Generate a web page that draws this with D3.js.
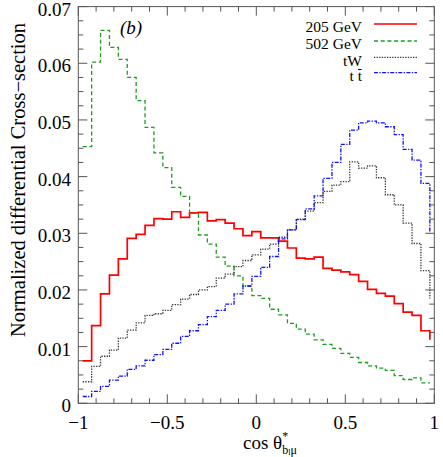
<!DOCTYPE html>
<html><head><meta charset="utf-8">
<script src="https://cdn.jsdelivr.net/npm/d3@7"></script>
<style>body{margin:0;background:#fff}svg{display:block}text{font-family:"Liberation Serif","Times New Roman",Times,serif}</style>
</head><body>
<svg id="c" width="443" height="457"></svg>
<script>
// ---- data ----
const binStart = -0.975, binWidth = 0.05;
const xTicksMajor = [-1, -0.5, 0, 0.5, 1];
const xTickLabels = ["\u22121", "\u22120.5", "0", "0.5", "1"];
const yTicksMajor = [0, 0.01, 0.02, 0.03, 0.04, 0.05, 0.06, 0.07];
const yTickLabels = ["0", "0.01", "0.02", "0.03", "0.04", "0.05", "0.06", "0.07"];
const seriesNames = ["205 GeV", "502 GeV", "tW", "tt"];
const gev205 = [0.0075,0.0137,0.0193,0.0226,0.0255,0.0291,0.0298,0.0314,0.0326,0.0325,0.0338,0.0328,0.0336,0.0337,0.0322,0.0324,0.0318,0.0308,0.0296,0.0303,0.0292,0.0292,0.0286,0.0274,0.0256,0.0255,0.0258,0.0238,0.0235,0.0232,0.0227,0.0215,0.0201,0.0194,0.0189,0.0176,0.0161,0.0155,0.0128];
const gev502 = [0.0453,0.0602,0.0658,0.0628,0.0607,0.0575,0.0534,0.0487,0.0442,0.0416,0.0381,0.0365,0.0335,0.0297,0.0281,0.0258,0.0242,0.0225,0.0207,0.0190,0.0185,0.0166,0.0156,0.0141,0.0131,0.0122,0.0112,0.0104,0.0097,0.0088,0.0081,0.0072,0.0066,0.0062,0.0058,0.0049,0.0042,0.0045,0.0036];
const tW = [0.0038,0.0065,0.0083,0.0094,0.0115,0.0129,0.0142,0.0155,0.0158,0.0164,0.0174,0.0184,0.0192,0.0200,0.0206,0.0221,0.0228,0.0241,0.0252,0.0262,0.0272,0.0281,0.0293,0.0306,0.0325,0.0339,0.0354,0.0374,0.0385,0.0391,0.0426,0.0415,0.0419,0.0398,0.0368,0.0350,0.0318,0.0282,0.0234];
const ttbar = [0.0012,0.0021,0.0030,0.0041,0.0048,0.0060,0.0066,0.0076,0.0086,0.0095,0.0106,0.0118,0.0128,0.0139,0.0153,0.0164,0.0175,0.0193,0.0207,0.0224,0.0240,0.0259,0.0290,0.0306,0.0324,0.0343,0.0366,0.0397,0.0425,0.0457,0.0482,0.0495,0.0498,0.0495,0.0488,0.0474,0.0448,0.0429,0.0388];
const tailValues = [0.0112, null, 0.0185, 0.0300];

// ---- layout ----
const L = 78.3, R = 434.3, T = 6.6, B = 403.3;
const svg = d3.select("#c");
const x = d3.scaleLinear().domain([-1, 1]).range([L, R]);
const y = d3.scaleLinear().domain([0, 0.07]).range([B, T]);
const axisCol = "#555";

const styles = [
  {color: "#ff0000", dash: null, w: 1.7},
  {color: "#1c9e1c", dash: "4,2.7", w: 1.3},
  {color: "#333333", dash: "1.3,1.3", w: 1.3},
  {color: "#1010ff", dash: "4,1.4,1.3,1.4", w: 1.3}
];
const allSeries = [gev205, gev502, tW, ttbar];

// ---- frame and ticks ----
svg.append("rect").attr("x", L).attr("y", T).attr("width", R - L).attr("height", B - T)
  .attr("fill", "none").attr("stroke", axisCol).attr("stroke-width", 1);

const xMinor = d3.range(-10, 11).map(i => i / 10);
const yMinor = d3.range(0, 29).map(i => i * 0.0025);
const tg = svg.append("g").attr("stroke", axisCol).attr("stroke-width", 1);
xMinor.forEach(v => {
  const major = Math.abs(v * 2 - Math.round(v * 2)) < 1e-9;
  const len = major ? 9 : 5;
  tg.append("line").attr("x1", x(v)).attr("x2", x(v)).attr("y1", B).attr("y2", B - len);
  tg.append("line").attr("x1", x(v)).attr("x2", x(v)).attr("y1", T).attr("y2", T + len);
});
yMinor.forEach(v => {
  const major = Math.abs(v * 100 - Math.round(v * 100)) < 1e-9;
  const len = major ? 9 : 5;
  tg.append("line").attr("y1", y(v)).attr("y2", y(v)).attr("x1", L).attr("x2", L + len);
  tg.append("line").attr("y1", y(v)).attr("y2", y(v)).attr("x1", R).attr("x2", R - len);
});

// tick labels
svg.append("g").selectAll("text").data(xTicksMajor).join("text")
  .attr("x", d => x(d)).attr("y", 428.5).attr("text-anchor", "middle")
  .attr("font-size", 19).text((d, i) => xTickLabels[i]);
svg.append("g").selectAll("text").data(yTicksMajor).join("text")
  .attr("x", 71).attr("y", d => y(d) + 9).attr("text-anchor", "end")
  .attr("font-size", 19).text((d, i) => yTickLabels[i]);

// ---- histograms ----
const clipId = "pc";
svg.append("clipPath").attr("id", clipId).append("rect")
  .attr("x", L).attr("y", T).attr("width", R - L).attr("height", B - T);
const line = d3.line().x(d => x(d[0])).y(d => y(d[1])).curve(d3.curveStepAfter);
allSeries.forEach((vals, k) => {
  const pts = vals.map((v, i) => [binStart + i * binWidth, v]);
  const end = binStart + vals.length * binWidth;
  pts.push([end, vals[vals.length - 1]]);
  if (tailValues[k] != null) pts.push([end, tailValues[k]]);
  const s = styles[k];
  svg.append("path").datum(pts).attr("d", line).attr("fill", "none")
    .attr("stroke", s.color).attr("stroke-width", s.w)
    .attr("stroke-dasharray", s.dash).attr("clip-path", `url(#${clipId})`);
});

// ---- legend ----
const legY = [24, 41, 57.3, 72.7];
seriesNames.forEach((name, k) => {
  const s = styles[k];
  svg.append("line").attr("x1", 374).attr("x2", 417).attr("y1", legY[k]).attr("y2", legY[k])
    .attr("stroke", s.color).attr("stroke-width", s.w).attr("stroke-dasharray", s.dash);
  const t = svg.append("text").attr("x", 362).attr("y", legY[k] + 8.3)
    .attr("text-anchor", "end").attr("font-size", 15.5);
  if (name === "tt") {
    t.text("t t");
    const node = t.node();
    const n = node.getNumberOfChars();
    const p0 = node.getStartPositionOfChar(n - 1), p1 = node.getEndPositionOfChar(n - 1);
    svg.append("line").attr("x1", p0.x + 0.3).attr("x2", p1.x - 0.3)
      .attr("y1", p0.y - 11.5).attr("y2", p0.y - 11.5)
      .attr("stroke", "#000").attr("stroke-width", 1);
  } else t.text(name);
});

// (b) label
svg.append("text").attr("x", 120).attr("y", 34).attr("font-size", 19)
  .attr("font-style", "italic").text("(b)");

// axis titles
svg.append("text").attr("transform", "translate(25,180) rotate(-90)")
  .attr("text-anchor", "middle").attr("font-size", 20.5)
  .text("Normalized differential Cross\u2212section");

const xt = svg.append("text").attr("x", 243).attr("y", 449).attr("font-size", 19);
xt.append("tspan").text("cos \u03b8");
xt.append("tspan").attr("font-size", 12).attr("dy", -9).text("*");
xt.append("tspan").attr("font-size", 12).attr("dx", -6).attr("dy", 13.5).text("b");
xt.append("tspan").attr("font-size", 8).attr("dy", 1.5).text("l");
xt.append("tspan").attr("font-size", 12).attr("dy", -1.5).text("\u03bc");
</script>
</body></html>
